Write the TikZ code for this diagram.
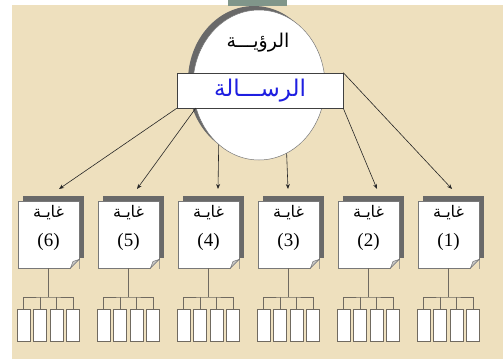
\documentclass[tikz,border=0pt]{standalone}
\usepackage{fontspec}
\setmainfont{Liberation Serif}
\newfontfamily\arabicfont[Script=Arabic]{DejaVu Sans}
\TeXXeTstate=1
\usetikzlibrary{shapes.geometric,arrows.meta}
\definecolor{parch}{RGB}{238,224,190}
\definecolor{topbar}{RGB}{128,150,138}
\definecolor{shadowgray}{RGB}{105,105,105}
\definecolor{docline}{RGB}{120,120,120}
\definecolor{treeline}{RGB}{112,106,96}
\definecolor{msgblue}{RGB}{30,30,225}
\definecolor{foldgray}{RGB}{200,200,200}
\begin{document}
\begin{tikzpicture}[x=1pt,y=-1pt,
  arr/.style={draw=black!85, line width=0.6pt, -{Stealth[length=5pt,width=4pt]}},
  docbox/.style={rectangle, draw=docline, fill=white, minimum width=61pt, minimum height=67pt, inner sep=0pt},
  doctext/.style={align=center, font=\fontsize{19}{29}\selectfont},
  leaf/.style={rectangle, draw=treeline, fill=white, line width=0.8pt, minimum width=13pt, minimum height=32pt, inner sep=0pt},
  tree/.style={draw=treeline, line width=0.7pt}]
\useasboundingbox (0,0) rectangle (503,359);
\fill[white] (0,0) rectangle (503,359);
\fill[parch] (12,5) rectangle (503,359);
\fill[topbar] (228,0) rectangle (287,6);
% vision ellipse
\node[ellipse, fill=shadowgray, minimum width=132pt, minimum height=150pt, inner sep=0pt] at (254,81) {};
\node[ellipse, fill=white, draw=docline, line width=0.5pt, minimum width=132pt, minimum height=150pt, inner sep=0pt] (vision) at (259,85) {};
\node[font=\arabicfont\fontsize{19}{22}\selectfont] (vt) at (258,43) {\beginR الرؤيـــة\endR};
\node[rectangle, draw=black!75, fill=white, line width=0.6pt, minimum width=166pt, minimum height=35pt, inner sep=0pt, text=msgblue, font=\arabicfont\fontsize{23}{26}\selectfont] (msg) at (260,90.5) {\beginR الرســـالة\endR};
% arrow targets
\coordinate (t6) at (59,189);
\coordinate (t5) at (137,189);
\coordinate (t4) at (218,189);
\coordinate (t3) at (288,189);
\coordinate (t2) at (377,189);
\coordinate (t1) at (452,189);
\draw[arr] (msg.south west) -- (t6);
\draw[arr] (vision.200) -- (t5);
\draw[arr] (vision.236) -- (t4);
\draw[arr] (vision.292) -- (t3);
\draw[arr] (msg.south east) -- (t2);
\draw[arr] (msg.north east) -- (t1);
% goals
\foreach \i/\n in {0/6,1/5,2/4,3/3,4/2,5/1}{
  \pgfmathsetmacro\x{48.5+80*\i}
  \fill[shadowgray] (\x-25.5,196) rectangle (\x+35.5,258);
  \node[docbox] (d\n) at (\x,234.5) {};
  \fill[parch] (\x+30.8,260) -- (\x+30.8,268.8) -- (\x+22,268.8) -- cycle;
  \draw[docline, line width=0.5pt] (\x+30.5,259.5) -- (\x+22,268);
  \filldraw[fill=foldgray, draw=docline, line width=0.5pt] (\x+30.5,259.5) -- (\x+22,268) -- (\x+24.5,261.5) -- cycle;
  \node[doctext] (g\n) at (\x,228) {{\arabicfont\fontsize{16}{18}\selectfont\beginR غايـة\endR}\\(\n)};
  \coordinate (j\n) at (\x,297);
  \foreach \j/\o in {a/-24.75,b/-8.25,c/8.25,d/24.75}{
    \node[leaf] (b\n-\j) at (\x+\o,325) {};
  }
  \draw[tree] (d\n.south) -- (j\n);
  \draw[tree] (b\n-a.north) |- (j\n) -| (b\n-d.north);
  \draw[tree] (b\n-b.north) -- (b\n-b.north |- j\n);
  \draw[tree] (b\n-c.north) -- (b\n-c.north |- j\n);
}
\end{tikzpicture}
\end{document}
